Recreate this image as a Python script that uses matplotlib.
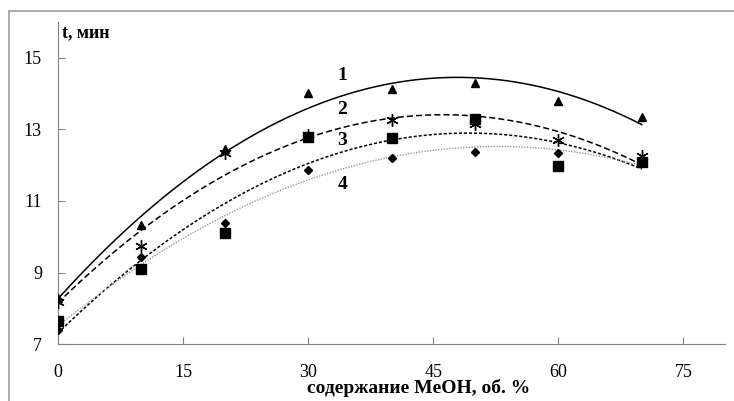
import numpy as np
import matplotlib.pyplot as plt
from matplotlib.lines import Line2D

plt.rcParams['font.family'] = ['Liberation Serif', 'DejaVu Serif']

# MeOH content, vol. %
meoh = [0, 10, 20, 30, 40, 50, 60, 70]

# retention times, min
t1 = [8.30, 10.33, 12.45, 14.03, 14.14, 14.30, 13.80, 13.36]   # triangles
t2 = [8.17, 9.75, 12.33, 12.85, 13.25, 13.15, 12.69, 12.27]    # stars
t3 = [7.64, 9.10, 10.10, 12.80, 12.75, 13.30, 11.98, 12.08]    # squares
t4 = [7.39, 9.42, 10.38, 11.87, 12.19, 12.37, 12.33, 12.10]    # diamonds

curve_labels = ['1', '2', '3', '4']
label_y = [14.5, 13.55, 12.69, 11.47]

xticks = [0, 15, 30, 45, 60, 75]
yticks = [7, 9, 11, 13, 15]

fig = plt.figure(figsize=(7.34, 4.01), dpi=100)
ax = fig.add_axes([0.079, 0.142, 0.909, 0.803])

# frame round the picture
fig.add_artist(Line2D([9/734, 1], [1 - 11/401] * 2, color='#a0a0a0', lw=1.2))
fig.add_artist(Line2D([9/734] * 2, [0, 1 - 11/401], color='#a0a0a0', lw=1.2))

series = [t1, t2, t3, t4]
markers = ['^', (6, 2, 0), 's', 'D']
msizes = [6, 9, 7, 4]
styles = [dict(color='black', ls='-', lw=1.1),
          dict(color='black', ls=(0, (4, 2)), lw=1.1),
          dict(color='black', ls=(0, (2, 1.3)), lw=1.1),
          dict(color='#9a9a9a', ls=(0, (1, 1)), lw=1.0)]

# quadratic trend lines through each series
xs = np.linspace(0, 70, 200)
for ys, st in zip(series, styles):
    coef = np.polyfit(meoh, ys, 2)
    ax.plot(xs, np.polyval(coef, xs), **st, zorder=2)

for ys, m, ms in zip(series, markers, msizes):
    ax.plot(meoh, ys, ls='none', marker=m, ms=ms, color='black',
            mec='black', mew=1.0, zorder=3)

for lab, ly in zip(curve_labels, label_y):
    ax.text(34.1, ly, lab, fontsize=14, fontweight='bold', ha='center', va='center')

ax.set_xlim(0, 80)
ax.set_ylim(7, 16)
ax.set_xticks(xticks)
ax.set_yticks(yticks)
ax.tick_params(axis='x', direction='in', length=5, pad=14, labelsize=13, color='#808080')
ax.tick_params(axis='y', direction='in', length=5, pad=11.5, labelsize=13, color='#808080')
for s in ['top', 'right']:
    ax.spines[s].set_visible(False)
for s in ['left', 'bottom']:
    ax.spines[s].set_color('#808080')

ax.text(0.006, 0.966, 't, мин', transform=ax.transAxes, fontsize=13,
        fontweight='bold', ha='left', va='center')
fig.text(419/734, 1 - 388/401, 'содержание MeOH, об. %', fontsize=14,
         fontweight='bold', ha='center', va='center')

fig.savefig('out.png', dpi=100)
